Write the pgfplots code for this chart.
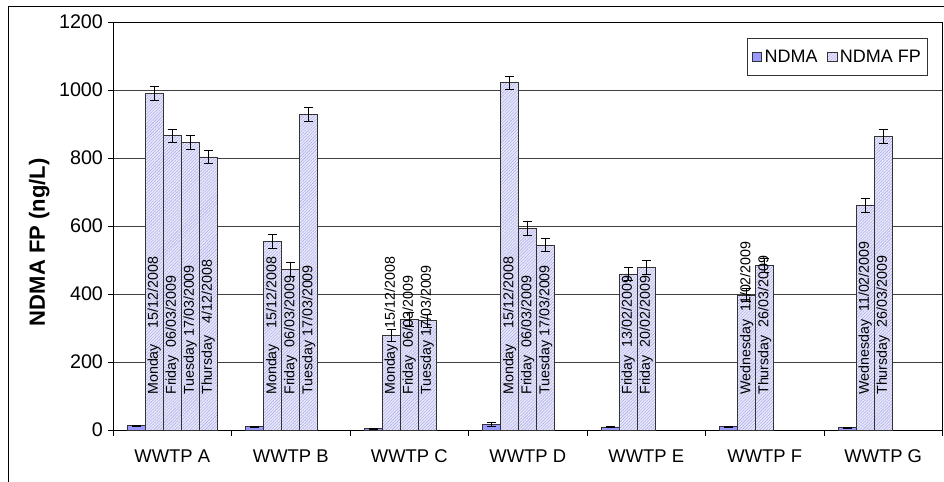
\documentclass[border=0pt]{standalone}
\usepackage{pgfplots}
\pgfplotsset{compat=1.18}
\usepackage{fontspec}
\setmainfont{Liberation Sans}
\usetikzlibrary{patterns.meta}
\definecolor{ndma}{RGB}{153,153,255}
\definecolor{fpfill}{RGB}{232,232,250}
\definecolor{fphatch}{RGB}{175,175,235}
\tikzdeclarepattern{
  name=fhatch,
  type=uncolored,
  bounding box={(0pt,-0.3pt) and (1pt,0.3pt)},
  tile size={(1pt,1.6pt)},
  tile transformation={rotate=45},
  code={\draw[line width=0.45pt] (0pt,0pt) -- (1pt,0pt);}
}
\begin{document}
\begin{tikzpicture}
\path[use as bounding box] (-84.75pt,-38.25pt) rectangle (623.25pt,322.5pt);
\begin{axis}[
  at={(0pt,0pt)}, anchor=south west,
  scale only axis,
  width=622.1pt, height=306pt,
  xmin=-0.5, xmax=6.5,
  ymin=0, ymax=1200,
  ytick={0,200,...,1200},
  xtick={0,1,2,3,4,5,6},
  xticklabels={WWTP A,WWTP B,WWTP C,WWTP D,WWTP E,WWTP F,WWTP G},
  minor xtick={-0.5,0.5,...,6.5},
  major x tick style={draw=none},
  tick pos=left,
  tick align=outside,
  major tick length=4pt,
  minor tick length=4.5pt,
  ymajorgrids,
  grid style={black!75, line width=0.6pt},
  axis line style={black, line width=0.6pt},
  every tick/.style={black, line width=0.6pt},
  /pgf/number format/assume math mode=true,
  /pgf/number format/1000 sep={},
  xticklabel style={font=\fontsize{13.8}{16}\selectfont, yshift=-7.5pt},
  yticklabel style={font=\fontsize{14.8}{17}\selectfont},
  ylabel={\bfseries NDMA FP (ng/L)},
  ylabel style={font=\fontsize{16.5}{19}\selectfont, at={(axis description cs:-0.089,0.46)}, anchor=center, rotate=0},
  legend columns=2,
  legend style={at={(axis description cs:0.9825,0.961)}, anchor=north east,
    draw=black!80, line width=0.6pt, font=\fontsize{13.5}{15}\selectfont,
    inner xsep=3pt, inner ysep=6.5pt,
    /tikz/every even column/.append style={column sep=5pt}},
  legend image code/.code={\draw[#1, line width=0.5pt] (0pt,-3.6pt) rectangle (7.2pt,3.6pt);},
]
\addplot[ybar, bar width=0.152, bar shift=0pt, draw=black!80, line width=0.6pt, fill=ndma,
  error bars/.cd, y dir=both, y explicit,
  error bar style={black, line width=0.6pt}, error mark options={rotate=90, black, mark size=3.4pt, line width=0.6pt}]
coordinates {
  (-0.304,13) +- (0,2)
  (0.696,10) +- (0,2)
  (1.696,4) +- (0,1)
  (2.696,17) +- (0,5)
  (3.696,9) +- (0,2)
  (4.696,10) +- (0,2)
  (5.696,7) +- (0,2)
};
\addlegendentry{NDMA}
\addplot[ybar, bar width=0.152, bar shift=0pt, draw=black!80, line width=0.6pt, fill=fpfill,
  postaction={pattern={fhatch}, pattern color=fphatch},
  error bars/.cd, y dir=both, y explicit,
  error bar style={black, line width=0.6pt}, error mark options={rotate=90, black, mark size=3.4pt, line width=0.6pt}]
coordinates {
  (-0.152,990) +- (0,20)
  (0,865) +- (0,20)
  (0.152,845) +- (0,20)
  (0.304,803) +- (0,20)
  (0.848,555) +- (0,20)
  (1,472) +- (0,20)
  (1.152,928) +- (0,20)
  (1.848,279) +- (0,18)
  (2,325) +- (0,20)
  (2.152,321) +- (0,20)
  (2.848,1021) +- (0,18)
  (3,593) +- (0,20)
  (3.152,544) +- (0,20)
  (3.848,459) +- (0,20)
  (4,478) +- (0,20)
  (4.848,397) +- (0,20)
  (5,484) +- (0,20)
  (5.848,660) +- (0,20)
  (6,863) +- (0,20)
};
\addlegendentry{NDMA FP}
\addplot[draw=none, mark=none, forget plot, point meta=explicit symbolic,
  nodes near coords,
  every node near coord/.style={rotate=90, anchor=west, inner sep=0pt, black,
    font=\fontsize{10.7}{12}\selectfont}]
coordinates {
  (-0.152,103) [Monday\ \ \ \ 15/12/2008]
  (0,103) [Friday\ \ 06/03/2009]
  (0.152,103) [Tuesday 17/03/2009]
  (0.304,103) [Thursday\ \ \ 4/12/2008]
  (0.848,103) [Monday\ \ \ \ 15/12/2008]
  (1,103) [Friday\ \ 06/03/2009]
  (1.152,103) [Tuesday 17/03/2009]
  (1.848,103) [Monday\ \ \ \ 15/12/2008]
  (2,103) [Friday\ \ 06/03/2009]
  (2.152,103) [Tuesday 17/03/2009]
  (2.848,103) [Monday\ \ \ \ 15/12/2008]
  (3,103) [Friday\ \ 06/03/2009]
  (3.152,103) [Tuesday 17/03/2009]
  (3.848,103) [Friday\ \ 13/02/2009]
  (4,103) [Friday\ \ 20/02/2009]
  (4.848,103) [Wednesday\ \ 11/02/2009]
  (5,103) [Thursday\ \ 26/03/2009]
  (5.848,103) [Wednesday\ \ 11/02/2009]
  (6,103) [Thursday\ \ 26/03/2009]
};
\end{axis}
\draw[black, line width=0.75pt] (-78.4pt,-45pt) -- (-78.4pt,317.25pt) -- (630pt,317.25pt);
\end{tikzpicture}
\end{document}
